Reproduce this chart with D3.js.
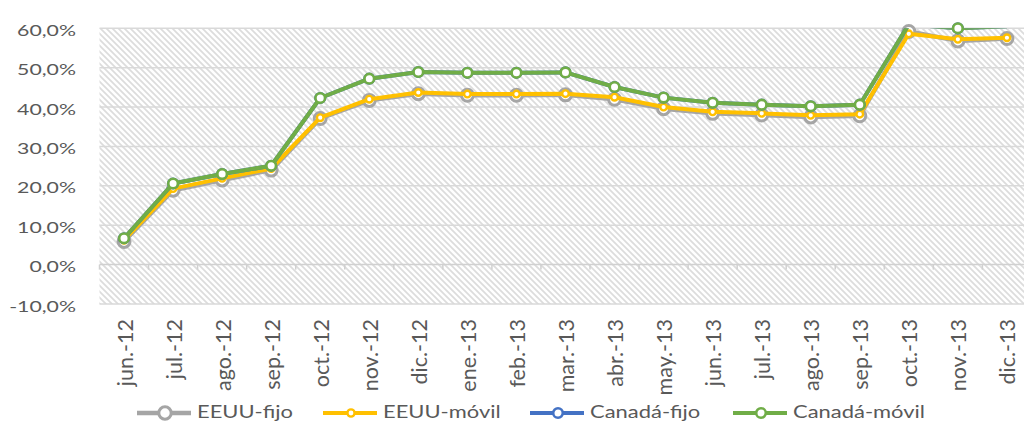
<!DOCTYPE html>
<html><head><meta charset="utf-8">
<script src="https://cdn.jsdelivr.net/npm/d3@7"></script>
<style>
body{margin:0;background:#fff}
svg{display:block}
text{font-family:Lato,"Open Sans",sans-serif;fill:#595959}
</style>
</head><body>
<svg id="c" width="1024" height="421"></svg>
<script>
const categories = ["jun.-12","jul.-12","ago.-12","sep.-12","oct.-12","nov.-12","dic.-12","ene.-13","feb.-13","mar.-13","abr.-13","may.-13","jun.-13","jul.-13","ago.-13","sep.-13","oct.-13","nov.-13","dic.-13"];
const eeuuFijo   = [5.9,18.9,21.5,24.0,37.1,41.7,43.4,43.0,43.0,43.1,42.0,39.6,38.4,38.0,37.5,37.8,59.2,56.8,57.4];
const eeuuMovil  = [6.2,19.3,21.9,24.4,37.3,42.0,43.7,43.3,43.3,43.4,42.5,40.0,38.8,38.4,37.9,38.2,58.6,57.2,57.6];
const canadaFijo = [6.7,20.6,23.0,25.1,42.3,47.2,48.9,48.7,48.7,48.8,45.1,42.4,41.1,40.6,40.2,40.6,61.0,60.0,60.5];
const canadaMovil= [6.7,20.6,23.0,25.1,42.3,47.2,48.9,48.7,48.7,48.8,45.1,42.4,41.1,40.6,40.2,40.6,61.0,60.0,60.5];
const seriesNames = ["EEUU-fijo","EEUU-móvil","Canadá-fijo","Canadá-móvil"];
const yTicks = [-10,0,10,20,30,40,50,60];

const colors = ["#A5A5A5","#FFC000","#4472C4","#70AD47"];
const lineW  = [4.5,4,4,4];
const mR     = [6,3.3,4.8,4.8];
const mSW    = [3,2.4,2.6,2.6];

const svg = d3.select("#c");
const plotL = 99.5, step = 49.05;
const x = d3.scaleBand().domain(categories).range([plotL, plotL + step*categories.length]).padding(0);
const y = d3.scaleLinear().domain([-10,60]).range([304,28.3]);
const plotR = plotL + step*categories.length;

const defs = svg.append("defs");
const T = 6;
const pat = defs.append("pattern").attr("id","hatch").attr("patternUnits","userSpaceOnUse")
  .attr("width",T).attr("height",T);
pat.append("rect").attr("width",T).attr("height",T).attr("fill","#fff");
pat.append("path").attr("d",`M-1,-1L${T+1},${T+1}M-1,${T-1}L1,${T+1}M${T-1},-1L${T+1},1`)
  .attr("stroke","#dcdcdc").attr("stroke-width",1.7);
defs.append("clipPath").attr("id","clip").append("rect")
  .attr("x",plotL).attr("y",y(60)).attr("width",plotR-plotL).attr("height",y(-10)-y(60));

svg.append("rect").attr("x",plotL).attr("y",y(60)).attr("width",plotR-plotL).attr("height",y(-10)-y(60)).attr("fill","url(#hatch)");

// gridlines
svg.append("g").selectAll("line").data(yTicks.filter(d=>d!==0)).join("line")
  .attr("x1",plotL).attr("x2",plotR).attr("y1",d=>y(d)).attr("y2",d=>y(d))
  .attr("stroke","#d9d9d9").attr("stroke-width",1.5);

// y labels
svg.append("g").selectAll("text").data(yTicks).join("text")
  .attr("transform",d=>`translate(76,${y(d)+7.5}) scale(1.33,1)`)
  .attr("text-anchor","end").attr("font-size",16)
  .text(d=>d.toFixed(1).replace(".",",")+"%");

// x axis line + ticks
svg.append("line").attr("x1",plotL).attr("x2",plotR).attr("y1",y(0)).attr("y2",y(0))
  .attr("stroke","#d0d0d0").attr("stroke-width",1.5);
svg.append("g").selectAll("line").data(d3.range(categories.length+1)).join("line")
  .attr("x1",i=>plotL+i*step).attr("x2",i=>plotL+i*step).attr("y1",y(0)).attr("y2",y(0)+5)
  .attr("stroke","#d0d0d0").attr("stroke-width",1.5);

// x labels
svg.append("g").selectAll("text").data(categories).join("text")
  .attr("transform",d=>`translate(${x(d)+x.bandwidth()/2+8.5},319) rotate(-90)`)
  .attr("text-anchor","end").attr("font-size",21.5)
  .text(d=>d);

// series
const allSeries = [eeuuFijo,eeuuMovil,canadaFijo,canadaMovil];
const line = d3.line().x((d,i)=>x(categories[i])+x.bandwidth()/2).y(d=>y(d));
const gS = svg.append("g");
allSeries.forEach((vals,si)=>{
  const g = gS.append("g");
  g.append("path").datum(vals).attr("d",line).attr("fill","none")
    .attr("stroke",colors[si]).attr("stroke-width",lineW[si]).attr("stroke-linejoin","round")
    .attr("clip-path","url(#clip)");
  g.selectAll("circle").data(vals.map((v,i)=>({v,i})).filter(d=>d.v>=-10&&d.v<=60.05)).join("circle")
    .attr("cx",d=>x(categories[d.i])+x.bandwidth()/2).attr("cy",d=>y(d.v))
    .attr("r",mR[si]).attr("fill","#fff").attr("stroke",colors[si]).attr("stroke-width",mSW[si]);
});

// legend
const legX = [137,323,530,733];
const legY = 413;
const lg = svg.append("g");
seriesNames.forEach((n,si)=>{
  const g = lg.append("g").attr("transform",`translate(${legX[si]},${legY})`);
  g.append("line").attr("x1",0).attr("x2",54).attr("stroke",colors[si]).attr("stroke-width",lineW[si]);
  g.append("circle").attr("cx",28).attr("r",si===0?6.2:(si===1?3.6:4.8)).attr("fill","#fff")
    .attr("stroke",colors[si]).attr("stroke-width",mSW[si]);
  g.append("text").attr("transform","translate(60,4.5) scale(1.33,1)").attr("font-size",16.5).text(n);
});
</script>
</body></html>
